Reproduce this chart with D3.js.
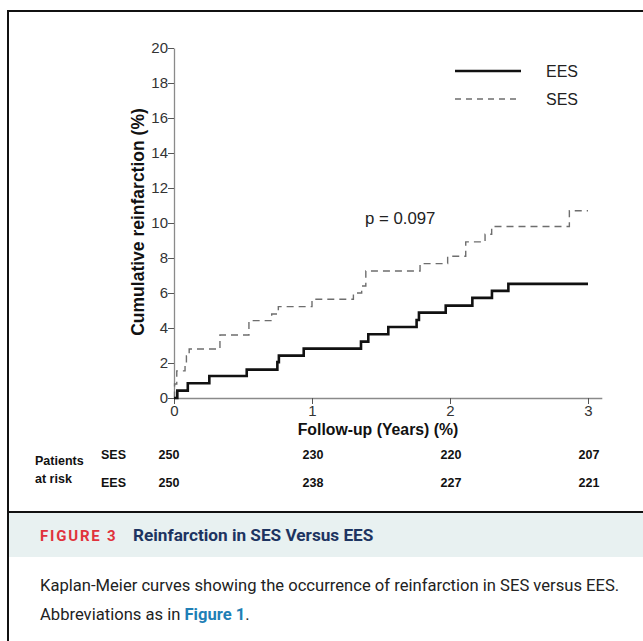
<!DOCTYPE html>
<html>
<head>
<meta charset="utf-8">
<script src="https://cdn.jsdelivr.net/npm/d3@7"></script>
<style>
  body { margin: 0; background: #fff; }
  svg { display: block; }
</style>
</head>
<body>
<div id="main"></div>
<script>
// Kaplan-Meier steps: [years, cumulative %]
const eesTimes  = [0, 0.024, 0.10, 0.256, 0.527, 0.749, 0.76, 0.94, 1.355, 1.408, 1.553, 1.758, 1.775, 1.969, 2.162, 2.304, 2.423, 3.0];
const eesValues = [0, 0.42, 0.84, 1.26, 1.62, 2.05, 2.42, 2.82, 3.22, 3.64, 4.06, 4.46, 4.88, 5.28, 5.72, 6.12, 6.52, 6.52];
const sesTimes  = [0, 0.004, 0.02, 0.08, 0.09, 0.11, 0.333, 0.543, 0.708, 0.756, 1.0, 1.3, 1.36, 1.39, 1.783, 1.983, 2.114, 2.254, 2.302, 2.865, 3.0];
const sesValues = [0, 0.8, 1.55, 2.0, 2.4, 2.8, 3.6, 4.42, 4.8, 5.22, 5.64, 6.0, 6.4, 7.26, 7.68, 8.1, 8.92, 9.36, 9.8, 10.7, 10.7];

const xTicks = [0, 1, 2, 3];
const yTicks = [0, 2, 4, 6, 8, 10, 12, 14, 16, 18, 20];

const riskGroups = ["SES", "EES"];
const riskSES = [250, 230, 220, 207];
const riskEES = [250, 238, 227, 221];

const width = 643, height = 641;
const svg = d3.select("#main").append("svg")
    .attr("width", width)
    .attr("height", height);

const x = d3.scaleLinear().domain([0, 3.1]).range([174, 174 + 3.1 * 138]);
const y = d3.scaleLinear().domain([0, 20]).range([398, 48]);

// frame + caption band
svg.append("rect")
    .attr("x", 8).attr("y", 513)
    .attr("width", width - 8).attr("height", 44)
    .attr("fill", "#e8f1f1");
svg.append("path")
    .attr("d", `M8,${height}V11H${width}M8,512H${width}`)
    .attr("fill", "none")
    .attr("stroke", "#111")
    .attr("stroke-width", 2);

const axisFont = "'Liberation Sans', Arial, sans-serif";

// axes
const yAxis = svg.append("g")
    .attr("transform", `translate(${x(0)},0)`)
    .call(d3.axisLeft(y).tickValues(yTicks).tickFormat(d3.format("d"))
        .tickSize(6).tickSizeOuter(0).tickPadding(0));
const xAxis = svg.append("g")
    .attr("transform", `translate(0,${y(0)})`)
    .call(d3.axisBottom(x).tickValues(xTicks).tickFormat(d3.format("d"))
        .tickSize(6).tickSizeOuter(0).tickPadding(1));

[yAxis, xAxis].forEach(g => {
    g.attr("font-family", "Liberation Sans").attr("font-size", 15);
    g.select(".domain").attr("stroke", "#8a8a8a").attr("stroke-width", 1.3);
    g.selectAll(".tick line").attr("stroke", "#555");
    g.selectAll(".tick text")
        .attr("fill", "#333")
        .attr("font-size", 15);
});

svg.append("text")
    .attr("transform", `translate(144,222) rotate(-90)`)
    .attr("text-anchor", "middle")
    .style("font", `bold 17.5px ${axisFont}`)
    .attr("fill", "#111")
    .text("Cumulative reinfarction (%)");

svg.append("text")
    .attr("x", 378).attr("y", 435)
    .attr("text-anchor", "middle")
    .style("font", `bold 15.8px ${axisFont}`)
    .attr("fill", "#111")
    .text("Follow-up (Years) (%)");

// curves
const step = d3.line()
    .x(d => x(d[0]))
    .y(d => y(d[1]))
    .curve(d3.curveStepAfter);

svg.append("path")
    .datum(d3.zip(sesTimes, sesValues))
    .attr("fill", "none")
    .attr("stroke", "#6e6e6e")
    .attr("stroke-width", 1.4)
    .attr("stroke-dasharray", "7,5")
    .attr("d", step);

svg.append("path")
    .datum(d3.zip(eesTimes, eesValues))
    .attr("fill", "none")
    .attr("stroke", "#111")
    .attr("stroke-width", 2.6)
    .attr("d", step);

svg.append("text")
    .attr("x", 365).attr("y", 224)
    .style("font", `16.8px ${axisFont}`)
    .attr("fill", "#222")
    .text("p = 0.097");

// legend
const legend = svg.append("g");
[["EES", 71, "#111", 2.6, null], ["SES", 99, "#6e6e6e", 1.3, "6,5"]].forEach(([name, ly, c, w, dash]) => {
    legend.append("line")
        .attr("x1", 455).attr("x2", 521)
        .attr("y1", ly).attr("y2", ly)
        .attr("stroke", c)
        .attr("stroke-width", w)
        .attr("stroke-dasharray", dash);
    legend.append("text")
        .attr("x", 546).attr("y", ly + 6)
        .style("font", `16px ${axisFont}`)
        .attr("fill", "#222")
        .text(name);
});

// patients at risk
const risk = svg.append("g").style("font", `bold 12.5px ${axisFont}`).attr("fill", "#111");
risk.append("text").attr("x", 35).attr("y", 465).text("Patients");
risk.append("text").attr("x", 35).attr("y", 483).text("at risk");
[riskSES, riskEES].forEach((vals, i) => {
    const ry = 459 + i * 28;
    risk.append("text").attr("x", 101).attr("y", ry).text(riskGroups[i]);
    risk.selectAll(null)
        .data(vals)
        .join("text")
        .attr("x", (d, j) => x(xTicks[j]) + (j === 0 ? -5 : 1))
        .attr("y", ry)
        .attr("text-anchor", "middle")
        .text(d => d);
});

// caption
const capFont = "Roboto, 'Noto Sans', sans-serif";
svg.append("text")
    .attr("x", 40).attr("y", 541)
    .style("font", `bold 15px ${capFont}`)
    .style("letter-spacing", "1.8px")
    .attr("fill", "#e0323c")
    .text("FIGURE 3");
svg.append("text")
    .attr("x", 133).attr("y", 541)
    .style("font", `bold 17.2px ${capFont}`)
    .attr("fill", "#1d3461")
    .text("Reinfarction in SES Versus EES");

svg.append("text")
    .attr("x", 40).attr("y", 591)
    .style("font", `16.6px ${capFont}`)
    .attr("fill", "#222")
    .text("Kaplan-Meier curves showing the occurrence of reinfarction in SES versus EES.");

const abbr = svg.append("text")
    .attr("x", 40).attr("y", 620)
    .style("font", `16.6px ${capFont}`)
    .attr("fill", "#222");
abbr.append("tspan").text("Abbreviations as in ");
abbr.append("tspan").style("font-weight", "bold").attr("fill", "#1f7fb6").text("Figure 1");
abbr.append("tspan").text(".");
</script>
</body>
</html>
